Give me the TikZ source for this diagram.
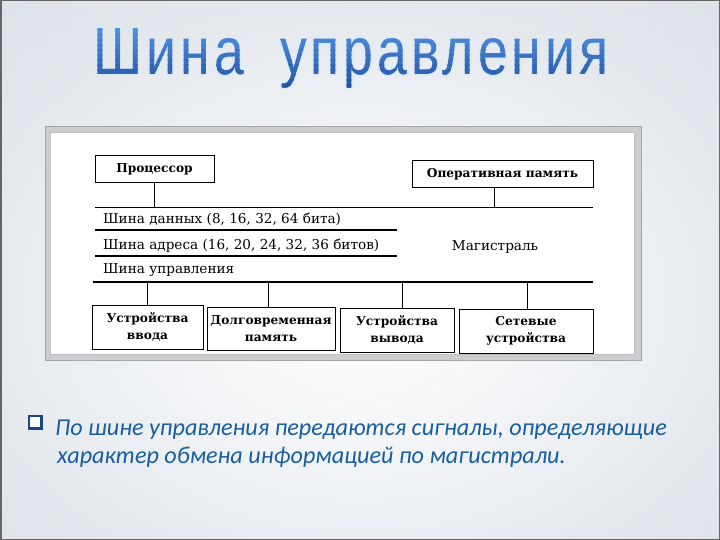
\documentclass[tikz,border=0pt]{standalone}
\usepackage{fontspec}
\setmainfont{DejaVu Serif}
\newfontfamily\titlefont[FakeStretch=0.8,LetterSpace=6]{Liberation Sans}
\newfontfamily\notefont{Carlito}
\definecolor{bgouter}{RGB}{196,203,212}
\definecolor{bgmid}{RGB}{228,232,237}
\definecolor{panelborder}{RGB}{205,205,208}
\definecolor{paneledge}{RGB}{165,165,170}
\definecolor{notecol}{RGB}{26,94,160}
\definecolor{bulletcol}{RGB}{30,70,130}
\definecolor{tA}{RGB}{84,146,222}
\definecolor{tB}{RGB}{30,78,160}
\definecolor{halo}{RGB}{222,234,248}
\pgfdeclareradialshading{vign}{\pgfpoint{0bp}{-4bp}}{color(0bp)=(white); color(28bp)=(bgmid); color(75bp)=(bgouter)}
\newcommand{\titletext}{Шина\hspace{36pt}управления}
\begin{document}
\begin{tikzpicture}[x=1pt,y=-1pt,
  box/.style={draw, line width=1pt, fill=white, inner sep=0pt, align=center,
     font=\fontsize{12.2}{17}\selectfont\bfseries},
  buslab/.style={anchor=base west, inner sep=0pt, font=\fontsize{13.6}{15}\selectfont},
  bus/.style={line width=1.1pt},
  stem/.style={line width=0.9pt},
  titlestyle/.style={anchor=base, inner sep=0pt, font=\titlefont\fontsize{67}{70}\selectfont},
  note/.style={anchor=base west, inner sep=0pt, text=notecol, font=\notefont\itshape\fontsize{24.2}{27}\selectfont}]
\useasboundingbox (0,0) rectangle (720,540);
% background
\shade[shading=vign] (0,0) rectangle (720,540);
\draw[line width=1.5pt, color=gray!80!black] (0.75,0.75) rectangle (719.25,539.25);
% title halo
\foreach \dx/\dy in {-1.3/0,1.3/0,0/-1.3,0/1.3,-1/-1,1/1,-1/1,1/-1}{
  \node[titlestyle, text=halo] (halo) at (351+\dx,75+\dy) {\titletext};
}
% title with vertical gradient (bands)
\foreach \i in {0,...,13}{
  \pgfmathsetmacro{\ya}{25+\i*5}
  \pgfmathsetmacro{\yb}{\ya+5.2}
  \pgfmathsetmacro{\mix}{100-\i*100/13}
  \begin{scope}
    \clip (0,\ya) rectangle (720,\yb);
    \node[titlestyle, text=tA!\mix!tB] (title\i) at (351,75) {\titletext};
  \end{scope}
}
% panel
\fill[panelborder] (45,126) rectangle (642,361);
\draw[paneledge, line width=0.8pt] (45.4,126.4) rectangle (641.6,360.6);
\fill[white] (50,132) rectangle (634,354);
\draw[gray!50, line width=0.6pt] (50,132) rectangle (634,354);
% top boxes
\node[box, minimum width=119pt, minimum height=27pt] (proc) at (154.5,169.5) {Процессор};
\node[box, minimum width=181pt, minimum height=27pt] (ram) at (502.5,174.5) {Оперативная память};
% bus lines
\coordinate (b1L) at (95,207.5); \coordinate (b1R) at (593,207.5);
\coordinate (b2L) at (95,230); \coordinate (b2R) at (397,230);
\coordinate (b3L) at (95,256); \coordinate (b3R) at (397,256);
\coordinate (b4L) at (93,282); \coordinate (b4R) at (593,282);
\draw[bus] (b1L) -- (b1R);
\draw[bus] (b2L) -- (b2R);
\draw[bus] (b3L) -- (b3R);
\draw[bus] (b4L) -- (b4R);
\draw[stem] (proc.south) -- (proc.south |- b1L);
\coordinate (ramstem) at (494,188);
\draw[stem] (ramstem) -- (ramstem |- b1L);
% bus labels
\node[buslab] (ldata) at (103,224) {Шина данных (8, 16, 32, 64 бита)};
\node[buslab] (laddr) at (103,249) {Шина адреса (16, 20, 24, 32, 36 битов)};
\node[buslab] (lctrl) at (103,273) {Шина управления};
\node[buslab, anchor=base] (lmag) at (495,250) {Магистраль};
% bottom boxes
\node[box, minimum width=111pt, minimum height=44pt] (in) at (147.5,327) {Устройства\\ввода};
\node[box, minimum width=128pt, minimum height=43pt] (ltm) at (271,328.5) {Долговременная\\память};
\node[box, minimum width=114pt, minimum height=44pt] (out) at (397,330) {Устройства\\вывода};
\node[box, minimum width=134pt, minimum height=44pt] (net) at (526,331) {Сетевые\\устройства};
\draw[stem] (in.north) -- (in.north |- b4L);
\draw[stem] ([xshift=-3pt]ltm.north) -- ([xshift=-3pt]ltm.north |- b4L);
\draw[stem] ([xshift=5pt]out.north) -- ([xshift=5pt]out.north |- b4L);
\draw[stem] ([xshift=1pt]net.north) -- ([xshift=1pt]net.north |- b4L);
% bullet text
\fill[bulletcol] (28,415) rectangle (42.5,429.5);
\fill[white] (30,417) rectangle (40,427);
\node[note] (n1) at (55,435) {По шине управления передаются сигналы, определяющие};
\node[note] (n2) at (57,463) {характер обмена информацией по магистрали.};
\end{tikzpicture}
\end{document}
